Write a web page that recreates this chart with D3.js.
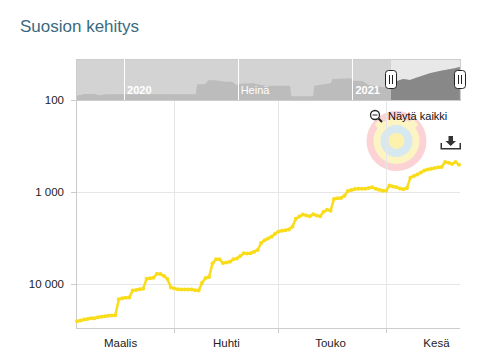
<!DOCTYPE html>
<html>
<head>
<meta charset="utf-8">
<script src="https://cdn.jsdelivr.net/npm/d3@7"></script>
<style>
  html, body { margin: 0; padding: 0; background: #fff; }
  text { font-family: "Liberation Sans", Arial, sans-serif; }
  .axis-text { font-size: 11.5px; fill: #222; }
</style>
</head>
<body>
<div id="chart"></div>
<script>
// main series, one rank per day from 4 March to 22 June 2021
const firstDay = "2021-03-04";
const ranksMarch = [25400,24900,24400,24000,23600,23600,23000,22700,22400,22200,22000,21900,14700,14300,14100,14000,11800,11600,11400,11300,8800,8650,8560,7730,7780,8200,8830,10900];
const ranksApril = [11200,11400,11500,11500,11500,11500,11700,11800,9690,8610,8390,5960,5400,5400,5910,5850,5730,5400,5300,4960,4630,4650,4630,4450,4270,3580,3350,3200,3060,2850];
const ranksMay = [2690,2640,2600,2560,2380,1960,1850,1760,1800,1840,1750,1800,1840,1640,1560,1600,1190,1170,1160,1100,975,950,930,920,925,920,905,890,920,945,968];
const ranksJune = [968,849,870,890,915,935,906,699,670,646,615,584,570,560,550,540,535,472,481,497,472,505];

// overview series for the navigator
const navDates = ["2019-10-16","2019-10-30","2019-11-15","2019-11-23","2019-12-03","2020-04-25","2020-04-27","2020-05-10","2020-05-15","2020-05-26","2020-06-11","2020-06-22","2020-06-29","2020-07-05","2020-07-26","2020-08-14","2020-09-23","2020-09-25","2020-10-30","2020-11-01","2020-11-27","2020-11-30","2020-12-29","2021-01-03","2021-01-17","2021-01-27","2021-03-01","2021-03-03","2021-03-10","2021-03-23","2021-04-03","2021-04-11","2021-05-05","2021-05-21","2021-06-14","2021-06-22"];
const navRanks = [105700,77000,77000,98000,81300,81300,12600,12600,5980,5980,7770,7770,14300,11300,10500,16400,16400,118000,118000,16400,10500,4700,4120,6450,6820,14300,25100,25100,7770,4700,5660,4120,1620,1060,638,500];

const yTicks = [100, 1000, 10000];
const monthStarts = ["2021-04-01","2021-05-01","2021-06-01"];
const monthLabels = [["2021-03-16T12:00Z","Maalis"],["2021-04-16","Huhti"],["2021-05-16","Touko"],["2021-06-15T12:00Z","Kesä"]];
const navLines = [["2020-01-01","2020"],["2020-07-01","Heinä"],["2021-01-01","2021"]];
const viewRange = ["2021-03-03T16:00Z","2021-06-22T07:00Z"];
const navRange = ["2019-10-16","2021-06-22T07:00Z"];

const width = 491, height = 360;
const plot = {left: 76, right: 460, top: 100, bottom: 328};
const nav = {top: 59, bottom: 100};

const parse = s => new Date(s.length == 10 ? s + "T00:00Z" : s);
const crisp = v => Math.round(v) + 0.5;
const numFormat = v => String(v).replace(/\B(?=(\d{3})+$)/g, " ");

const ranks = ranksMarch.concat(ranksApril, ranksMay, ranksJune);
const dates = ranks.map((r, i) => d3.utcDay.offset(parse(firstDay), i));

const svg = d3.select("#chart").append("svg")
  .attr("width", width).attr("height", height)
  .style("display", "block");

// title
svg.append("text")
  .attr("x", 20).attr("y", 32)
  .attr("font-size", 17).attr("fill", "#3b6a7f")
  .text("Suosion kehitys");

// scales
const x = d3.scaleUtc().domain(viewRange.map(parse)).range([plot.left, plot.right]);
const y = d3.scaleLog().domain([100, 30100]).range([plot.top, plot.bottom]);
const navX = d3.scaleUtc().domain(navRange.map(parse)).range([plot.left, plot.right]);
const navY = d3.scaleLog().domain([113, 234000]).range([nav.top, nav.bottom]);

// watermark logo
const logo = svg.append("g").attr("transform", "translate(396.5,141)");
logo.append("circle").attr("r", 30).attr("fill", "#fbd3d5");
logo.append("circle").attr("r", 23).attr("fill", "#fdf4c4");
[135, 225].forEach(a => {
  logo.append("rect").attr("x", -4).attr("y", 18).attr("width", 8).attr("height", 9)
    .attr("fill", "#fdf4c4").attr("transform", `rotate(${a})`);
});
logo.append("circle").attr("r", 16).attr("fill", "#d6e8f0");
logo.append("circle").attr("r", 8).attr("fill", "#fdf1ae");

// grid
svg.append("g").selectAll("line").data(yTicks.slice(1)).join("line")
  .attr("x1", plot.left).attr("x2", plot.right)
  .attr("y1", d => crisp(y(d))).attr("y2", d => crisp(y(d)))
  .attr("stroke", "#e6e6e6");
svg.append("g").selectAll("line").data(monthStarts).join("line")
  .attr("x1", d => crisp(x(parse(d)))).attr("x2", d => crisp(x(parse(d))))
  .attr("y1", plot.top).attr("y2", plot.bottom)
  .attr("stroke", "#e6e6e6");

// axes
const yAxis = svg.append("g");
yAxis.append("line")
  .attr("x1", plot.left + 0.5).attr("x2", plot.left + 0.5)
  .attr("y1", plot.top).attr("y2", plot.bottom)
  .attr("stroke", "#ccc");
yAxis.selectAll("line.tick").data(yTicks).join("line")
  .attr("class", "tick")
  .attr("x1", plot.left - 5).attr("x2", plot.left)
  .attr("y1", d => crisp(y(d))).attr("y2", d => crisp(y(d)))
  .attr("stroke", "#ccc");
yAxis.selectAll("text").data(yTicks).join("text")
  .attr("class", "axis-text")
  .attr("x", plot.left - 12).attr("y", d => y(d) + 4)
  .attr("text-anchor", "end")
  .text(numFormat);

const xAxis = svg.append("g");
xAxis.append("line")
  .attr("x1", plot.left).attr("x2", plot.right)
  .attr("y1", plot.bottom + 0.5).attr("y2", plot.bottom + 0.5)
  .attr("stroke", "#ccc");
xAxis.selectAll("line.tick").data(monthStarts).join("line")
  .attr("class", "tick")
  .attr("x1", d => crisp(x(parse(d)))).attr("x2", d => crisp(x(parse(d))))
  .attr("y1", plot.bottom).attr("y2", plot.bottom + 5)
  .attr("stroke", "#ccc");
xAxis.selectAll("text").data(monthLabels).join("text")
  .attr("class", "axis-text")
  .attr("x", d => x(parse(d[0]))).attr("y", plot.bottom + 19)
  .attr("text-anchor", "middle")
  .text(d => d[1]);

// the line, with a small bead on every day
const line = d3.line()
  .x((d, i) => x(dates[i]))
  .y(d => y(d));
svg.append("path")
  .attr("d", line(ranks))
  .attr("fill", "none")
  .attr("stroke", "#f9dc1a")
  .attr("stroke-width", 2.5)
  .attr("stroke-linejoin", "round");
svg.append("g").selectAll("circle").data(ranks).join("circle")
  .attr("cx", (d, i) => x(dates[i]))
  .attr("cy", d => y(d))
  .attr("r", 2)
  .attr("fill", "#f9dc1a");

// navigator
const selX0 = navX(x.domain()[0]), selX1 = navX(x.domain()[1]);
svg.append("rect")
  .attr("x", plot.left).attr("y", nav.top)
  .attr("width", plot.right - plot.left).attr("height", nav.bottom - nav.top)
  .attr("fill", "#d3d3d3");
svg.append("rect")
  .attr("x", selX0).attr("y", nav.top)
  .attr("width", selX1 - selX0).attr("height", nav.bottom - nav.top)
  .attr("fill", "#e8e8e8");

const navPoints = navDates.map((d, i) => [parse(d), navRanks[i]]);
const navArea = d3.area()
  .x(d => navX(d[0]))
  .y0(nav.bottom)
  .y1(d => navY(d[1]));
svg.append("defs").append("clipPath").attr("id", "selClip")
  .append("rect").attr("x", selX0).attr("y", nav.top)
  .attr("width", selX1 - selX0).attr("height", nav.bottom - nav.top);
svg.append("path").attr("d", navArea(navPoints)).attr("fill", "#bcbcbc");
svg.append("path").attr("d", navArea(navPoints)).attr("fill", "#888")
  .attr("clip-path", "url(#selClip)");

// navigator frame
svg.append("rect")
  .attr("x", plot.left + 0.5).attr("y", nav.top + 0.5)
  .attr("width", plot.right - plot.left).attr("height", nav.bottom - nav.top)
  .attr("fill", "none").attr("stroke", "#ccc");

// navigator time marks
svg.append("g").selectAll("line").data(navLines).join("line")
  .attr("x1", d => crisp(navX(parse(d[0])))).attr("x2", d => crisp(navX(parse(d[0]))))
  .attr("y1", nav.top).attr("y2", nav.bottom)
  .attr("stroke", "#fff");
svg.append("g").selectAll("text").data(navLines).join("text")
  .attr("x", d => navX(parse(d[0])) + 3).attr("y", nav.bottom - 6)
  .attr("font-size", 11).attr("fill", "#fff")
  .attr("font-weight", d => d[1] == "Heinä" ? "normal" : "bold")
  .text(d => d[1]);

// navigator handles
const handles = svg.append("g").selectAll("g").data([selX0, selX1]).join("g")
  .attr("transform", d => `translate(${Math.round(d)},0)`);
handles.append("rect")
  .attr("x", -5.5).attr("y", 70.5).attr("width", 11).attr("height", 18).attr("rx", 3)
  .attr("fill", "#fff").attr("stroke", "#222");
handles.selectAll("line").data([-1.5, 1.5]).join("line")
  .attr("x1", d => d).attr("x2", d => d)
  .attr("y1", 75).attr("y2", 84)
  .attr("stroke", "#222");

// "show all" button
const btn = svg.append("g");
btn.append("circle").attr("cx", 375).attr("cy", 115).attr("r", 4.5)
  .attr("fill", "none").attr("stroke", "#222").attr("stroke-width", 1.3);
btn.append("line").attr("x1", 372.5).attr("x2", 377.5).attr("y1", 115).attr("y2", 115)
  .attr("stroke", "#222");
btn.append("line").attr("x1", 378.5).attr("y1", 118.5).attr("x2", 382).attr("y2", 122)
  .attr("stroke", "#222").attr("stroke-width", 2);
btn.append("text").attr("x", 388).attr("y", 120)
  .attr("font-size", 11).attr("fill", "#111")
  .text("Näytä kaikki");

// download icon
const dl = svg.append("g").attr("fill", "#333");
dl.append("path").attr("d", "M440.5 143V149.5H461V143H459.5V148H442V143Z");
dl.append("path").attr("d", "M448.5 136H453V141H456L450.7 146L445.5 141H448.5Z");
</script>
</body>
</html>
